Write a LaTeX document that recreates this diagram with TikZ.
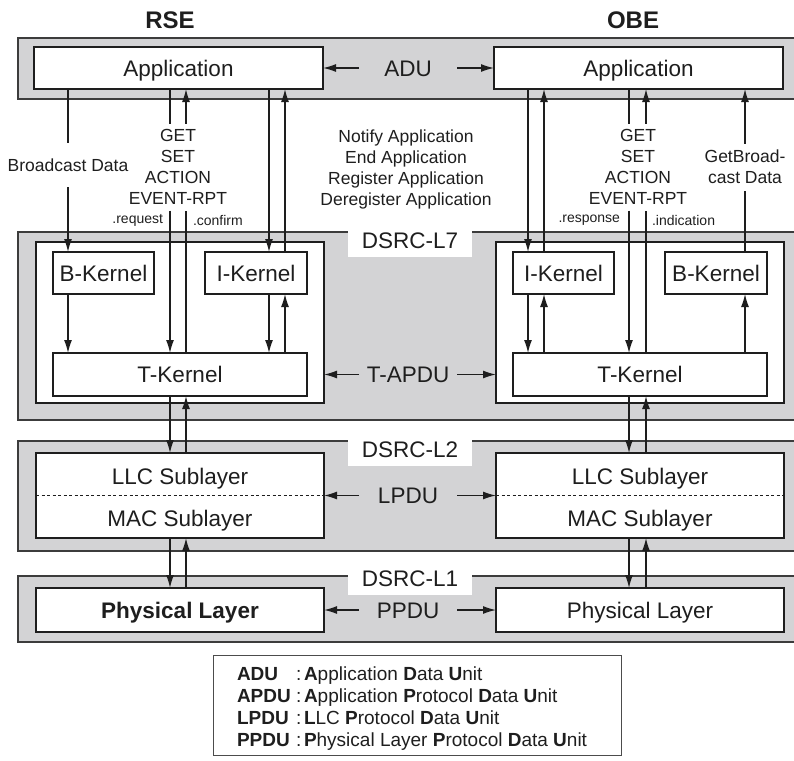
\documentclass[tikz,border=0pt]{standalone}
\usepackage{fontspec}
\setmainfont{Liberation Sans}
\usetikzlibrary{arrows.meta}
\definecolor{bandgray}{RGB}{211,211,213}
\definecolor{ink}{RGB}{30,30,30}
\definecolor{bandline}{RGB}{60,60,60}
\newcommand\szTi{\fontsize{24}{28}\selectfont}
\newcommand\szBig{\fontsize{22.5}{26}\selectfont}
\newcommand\szMid{\fontsize{17.5}{21}\selectfont}
\newcommand\szSm{\fontsize{14}{17}\selectfont}
\newcommand\szLeg{\fontsize{19}{22}\selectfont}
\begin{document}
\begin{tikzpicture}[x=1pt,y=-1pt,
  band/.style={fill=bandgray, draw=bandline, line width=1.8pt, inner sep=0pt, outer sep=0pt, anchor=north west},
  box/.style={draw=ink, fill=white, line width=1.4pt, inner sep=0pt, outer sep=0pt, font=\szBig, text=ink, text height=16pt, text depth=0pt},
  plain/.style={inner sep=0pt, outer sep=0pt, font=\szBig, text=ink, text height=16pt, text depth=0pt},
  pdu/.style={plain, minimum width=98pt},
  tag/.style={plain, fill=white, minimum width=124pt, minimum height=33pt},
  lbl/.style={fill=white, inner sep=0pt, outer sep=0pt, font=\szMid, text=ink, align=center},
  small/.style={inner sep=0pt, outer sep=0pt, font=\szSm, text=ink},
  legtxt/.style={inner sep=0pt, outer sep=0pt, font=\szLeg, text=ink, anchor=base west},
  conn/.style={draw=ink, line width=1.3pt},
  arr/.style={conn, -{Latex[length=13pt,width=8pt]}},
  dotline/.style={draw=ink, line width=1.2pt, dash pattern=on 3pt off 2.5pt},
]
\useasboundingbox (0,0) rectangle (794,760);
\clip (0,0) rectangle (794,760);

% bands
\node[band, minimum width=790pt, minimum height=61pt] (bandA) at (18,38) {};
\node[band, minimum width=790pt, minimum height=188pt] (band7) at (18,232) {};
\node[band, minimum width=790pt, minimum height=110pt] (band2) at (18,441) {};
\node[band, minimum width=790pt, minimum height=66pt] (band1) at (18,576) {};

% titles
\node[font=\szTi\bfseries, text=ink, inner sep=0pt] (rse) at (170,20) {RSE};
\node[font=\szTi\bfseries, text=ink, inner sep=0pt] (obe) at (633,20) {OBE};

% application
\node[box, minimum width=289pt, minimum height=42pt] (appR) at (178.5,68) {Application};
\node[box, minimum width=289pt, minimum height=42pt] (appO) at (638.5,68) {Application};
\node[pdu] (adu) at (408,68) {ADU};
\draw[arr] (adu.west) -- (adu.west -| appR.east);
\draw[arr] (adu.east) -- (adu.east -| appO.west);

% band tags
\node[tag] (t7) at (410,240) {DSRC-L7};
\node[tag] (t2) at (410,449) {DSRC-L2};
\node[tag] (t1) at (410,578) {DSRC-L1};

% L7
\node[box, minimum width=288pt, minimum height=161pt] (inR) at (180,322.5) {};
\node[box, minimum width=288pt, minimum height=161pt] (inO) at (640,322.5) {};
\node[box, minimum width=101pt, minimum height=42pt] (bkR) at (103.5,273) {B-Kernel};
\node[box, minimum width=102pt, minimum height=42pt] (ikR) at (256,273) {I-Kernel};
\node[box, minimum width=254pt, minimum height=43pt] (tkR) at (180,374.5) {T-Kernel};
\node[box, minimum width=101pt, minimum height=42pt] (ikO) at (563.5,273) {I-Kernel};
\node[box, minimum width=102pt, minimum height=42pt] (bkO) at (716,273) {B-Kernel};
\node[box, minimum width=254pt, minimum height=43pt] (tkO) at (640,374.5) {T-Kernel};
\node[pdu] (tapdu) at (408,374.5) {T-APDU};
\draw[arr] (tapdu.west) -- (tapdu.west -| inR.east);
\draw[arr] (tapdu.east) -- (tapdu.east -| inO.west);

% L2
\node[box, minimum width=288pt, minimum height=85pt] (llcR) at (180,495.5) {};
\node[box, minimum width=288pt, minimum height=85pt] (llcO) at (640,495.5) {};
\draw[dotline] (llcR.west) -- (llcR.east);
\draw[dotline] (llcO.west) -- (llcO.east);
\node[plain] (llcRt) at (180,476) {LLC Sublayer};
\node[plain] (macRt) at (180,518) {MAC Sublayer};
\node[plain] (llcOt) at (640,476) {LLC Sublayer};
\node[plain] (macOt) at (640,518) {MAC Sublayer};
\node[pdu] (lpdu) at (408,495.5) {LPDU};
\draw[arr] (lpdu.west) -- (lpdu.west -| llcR.east);
\draw[arr] (lpdu.east) -- (lpdu.east -| llcO.west);

% L1
\node[box, minimum width=288pt, minimum height=44pt] (phyR) at (180,610) {\bfseries Physical Layer};
\node[box, minimum width=288pt, minimum height=44pt] (phyO) at (640,610) {Physical Layer};
\node[pdu] (ppdu) at (408,610) {PPDU};
\draw[arr] (ppdu.west) -- (ppdu.west -| phyR.east);
\draw[arr] (ppdu.east) -- (ppdu.east -| phyO.west);

% columns
\coordinate (c68) at (68,0);
\coordinate (c170) at (170,0);
\coordinate (c186) at (186,0);
\coordinate (c269) at (269,0);
\coordinate (c285) at (285,0);
\coordinate (c528) at (528,0);
\coordinate (c544) at (544,0);
\coordinate (c629) at (629,0);
\coordinate (c646) at (646,0);
\coordinate (c745) at (745,0);

% labels between application and L7
\node[lbl, minimum height=44pt] (bdR) at (68,165) {Broadcast Data};
\node[lbl, minimum height=87pt] (getR) at (178,167) {GET\\SET\\ACTION\\EVENT-RPT};
\node[lbl, minimum height=87pt] (getO) at (638,167) {GET\\SET\\ACTION\\EVENT-RPT};
\node[lbl, minimum height=47pt] (gbO) at (745,167) {GetBroad-\\cast Data};
\node[lbl, fill=none] (notify) at (406,169) {Notify Application\\End Application\\Register Application\\Deregister Application};
\node[small, anchor=east] (reqR) at (163,220) {.request};
\node[small, anchor=west] (cfmR) at (193,220) {.confirm};
\node[small, anchor=east] (rspO) at (620,220) {.response};
\node[small, anchor=west] (indO) at (652,220) {.indication};

% RSE connectors
\draw[conn] (c68 |- appR.south) -- (c68 |- bdR.north);
\draw[arr] (c68 |- bdR.south) -- (c68 |- bkR.north);
\draw[arr] (c68 |- bkR.south) -- (c68 |- tkR.north);
\draw[conn] (c170 |- appR.south) -- (c170 |- getR.north);
\draw[arr] (c170 |- getR.south) -- (c170 |- tkR.north);
\draw[conn] (c186 |- tkR.north) -- (c186 |- getR.south);
\draw[arr] (c186 |- getR.north) -- (c186 |- appR.south);
\draw[arr] (c269 |- appR.south) -- (c269 |- ikR.north);
\draw[arr] (c285 |- ikR.north) -- (c285 |- appR.south);
\draw[arr] (c269 |- ikR.south) -- (c269 |- tkR.north);
\draw[arr] (c285 |- tkR.north) -- (c285 |- ikR.south);
\draw[arr] (c170 |- tkR.south) -- (c170 |- llcR.north);
\draw[arr] (c186 |- llcR.north) -- (c186 |- tkR.south);
\draw[arr] (c170 |- llcR.south) -- (c170 |- phyR.north);
\draw[arr] (c186 |- phyR.north) -- (c186 |- llcR.south);

% OBE connectors
\draw[arr] (c528 |- appO.south) -- (c528 |- ikO.north);
\draw[arr] (c544 |- ikO.north) -- (c544 |- appO.south);
\draw[arr] (c528 |- ikO.south) -- (c528 |- tkO.north);
\draw[arr] (c544 |- tkO.north) -- (c544 |- ikO.south);
\draw[conn] (c629 |- appO.south) -- (c629 |- getO.north);
\draw[arr] (c629 |- getO.south) -- (c629 |- tkO.north);
\draw[conn] (c646 |- tkO.north) -- (c646 |- getO.south);
\draw[arr] (c646 |- getO.north) -- (c646 |- appO.south);
\draw[conn] (c745 |- bkO.north) -- (c745 |- gbO.south);
\draw[arr] (c745 |- gbO.north) -- (c745 |- appO.south);
\draw[arr] (c745 |- tkO.north) -- (c745 |- bkO.south);
\draw[arr] (c629 |- tkO.south) -- (c629 |- llcO.north);
\draw[arr] (c646 |- llcO.north) -- (c646 |- tkO.south);
\draw[arr] (c629 |- llcO.south) -- (c629 |- phyO.north);
\draw[arr] (c646 |- phyO.north) -- (c646 |- llcO.south);

% legend
\node[draw=gray!60!black, line width=1pt, minimum width=408pt, minimum height=100pt, inner sep=0pt, outer sep=0pt] (leg) at (417,705) {};
\node[legtxt] (kA) at (237,680) {\bfseries ADU};
\node[legtxt] (sA) at (296,680) {:};
\node[legtxt] (dA) at (304,680) {{\bfseries A}pplication {\bfseries D}ata {\bfseries U}nit};
\node[legtxt] (kB) at (237,702) {\bfseries APDU};
\node[legtxt] (sB) at (296,702) {:};
\node[legtxt] (dB) at (304,702) {{\bfseries A}pplication {\bfseries P}rotocol {\bfseries D}ata {\bfseries U}nit};
\node[legtxt] (kC) at (237,724) {\bfseries LPDU};
\node[legtxt] (sC) at (296,724) {:};
\node[legtxt] (dC) at (304,724) {{\bfseries L}LC {\bfseries P}rotocol {\bfseries D}ata {\bfseries U}nit};
\node[legtxt] (kD) at (237,746) {\bfseries PPDU};
\node[legtxt] (sD) at (296,746) {:};
\node[legtxt] (dD) at (304,746) {{\bfseries P}hysical Layer {\bfseries P}rotocol {\bfseries D}ata {\bfseries U}nit};
\end{tikzpicture}
\end{document}
